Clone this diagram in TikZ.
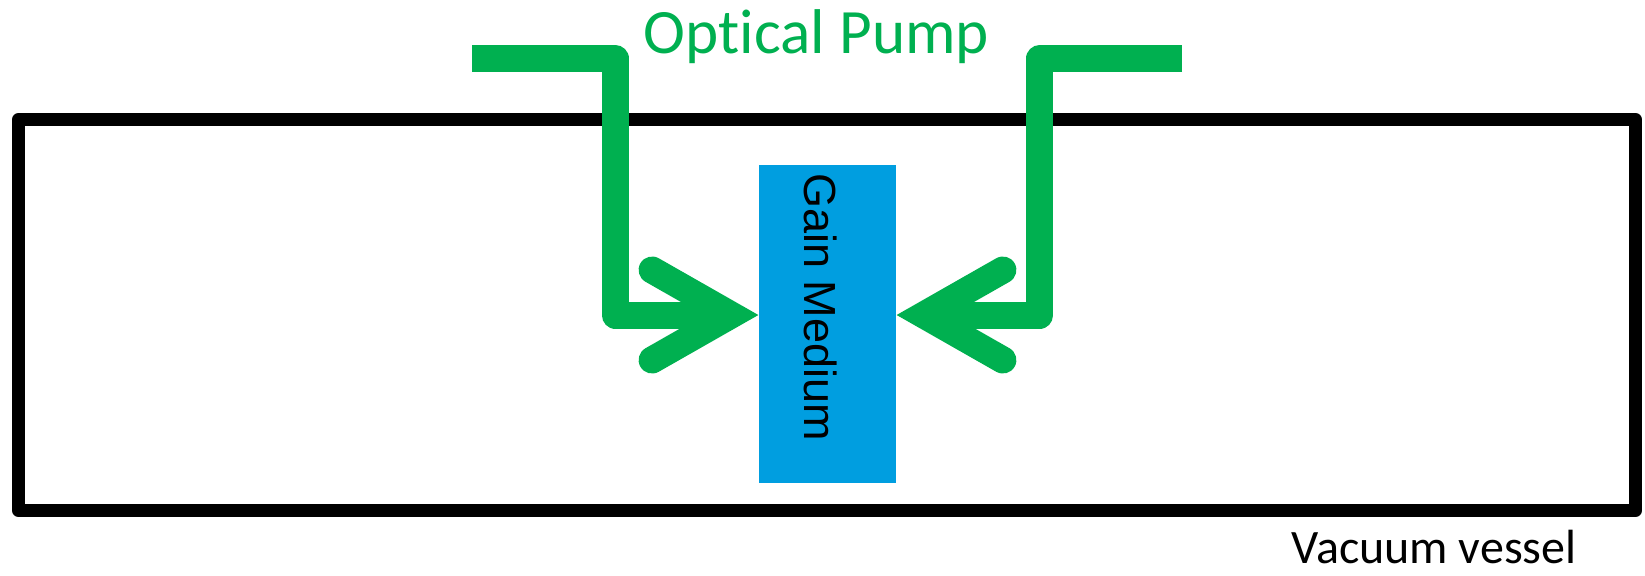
\documentclass[tikz,border=0pt]{standalone}
\usepackage{fontspec}
\setmainfont{Carlito}[Ligatures=NoCommon]
\newfontfamily\arialfont{Liberation Sans}
\usepackage{tikz}
\usetikzlibrary{calc}
\usepackage{xcolor}
\definecolor{cvert}{RGB}{0,176,80}
\definecolor{cbleu}{RGB}{0,158,224}

\begin{document}
\begin{tikzpicture}[x=0.5pt, y=-0.5pt,
  pump/.style={cvert, line width=13.5pt, line join=round},
  barb/.style={pump, line cap=round, line join=miter}]
\useasboundingbox (0,0) rectangle (1645,575);
\draw[line width=6.5pt, line join=round] (18.5,119.5) rectangle (1635.5,510.5);
\node[fill=cbleu, inner sep=0pt, minimum width=68.5pt, minimum height=159pt] (gain) at (827.5,324) {};
\node[rotate=-90, font=\arialfont\fontsize{22.5}{27}\selectfont] (gainlbl) at (821,307) {Gain Medium};
\coordinate (inL) at (472,58.5); \coordinate (inR) at (1182,58.5);
\foreach \s/\a/\d in {L/west/-1,R/east/1}
  {\coordinate (tip\s) at ([xshift=\d*13.75pt, yshift=4.5pt]gain.\a);
   \draw[pump] (in\s) -| ([xshift=\d*58pt]tip\s) -- (tip\s);
   \draw[barb] ([shift={(\d*79,-45)}]tip\s) -- (tip\s) -- ([shift={(\d*79,45)}]tip\s);}
\node[cvert, anchor=base, font=\fontsize{31.6}{38}\selectfont] (pumplbl) at (816.5,53) {Optical Pump};
\node[anchor=base, font=\fontsize{24}{29}\selectfont] (vessellbl) at (1434,563) {Vacuum vessel};
\end{tikzpicture}
\end{document}
